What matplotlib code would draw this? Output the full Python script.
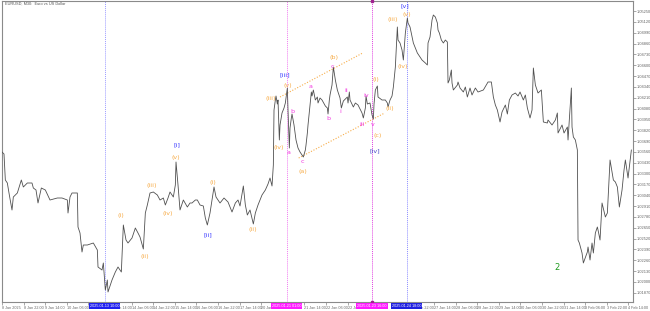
import matplotlib
matplotlib.use("Agg")
import matplotlib.pyplot as plt
import matplotlib.transforms as mtransforms
import numpy as np

plt.rcParams['font.family'] = ['Liberation Sans Narrow', 'Liberation Sans', 'DejaVu Sans']

# ── price series (M30 bars, EURUSD) ─────────────────────
bars = [0, 3, 5, 8, 11, 15, 17, 23, 29, 32, 38, 45, 47, 51, 54, 59, 65, 72, 83, 90,
        98, 99, 102, 105, 113, 114, 117, 120, 122, 128, 137, 143, 144, 150, 152, 155,
        158, 159, 165, 170, 174, 179, 182, 186, 189, 195, 200, 204, 207,
        212, 215, 218, 222, 227, 233, 237, 242, 245, 249, 252, 257, 260, 261, 264, 267,
        272, 278, 282, 285, 290, 293, 297, 302, 305, 308, 312, 315, 318, 321, 327, 333,
        339, 345, 350, 354, 357, 362, 365, 368, 372, 377, 380, 384, 390, 395, 399, 402,
        405, 407, 408, 410, 411, 413, 414, 416, 417, 420, 423, 425, 428, 429, 431, 432,
        434, 435, 438, 441, 444, 447, 452, 455, 456, 458, 459, 462, 464, 465, 467, 470,
        473, 474, 477, 480, 485, 488, 489, 491, 492, 495, 497, 500, 503, 507, 509, 512,
        518, 519, 521, 522, 527, 530, 534, 540, 542, 545, 546, 548, 552, 555, 557, 558,
        560, 563, 564, 570, 575, 578, 579, 582, 585, 587, 590, 593, 594, 597, 600, 602,
        605, 608, 609, 612, 617, 623, 627, 630, 635, 638, 639, 642, 645, 647, 650, 653,
        654, 656, 659, 662, 665, 668, 669, 671, 674, 675, 677, 683, 684, 687, 692, 695,
        698, 702, 705, 710, 714, 722, 729, 734, 737, 740, 743, 747, 750, 755, 758, 761,
        765, 770, 774, 777, 782, 785, 788, 792, 795, 797, 800, 804, 809, 812, 818, 819,
        825, 830, 833, 834, 840, 843, 848, 849, 854, 855, 857, 860, 863, 864, 866, 870,
        872, 878, 879, 882, 885, 887, 890, 893, 894, 897, 900, 905, 908, 912, 917, 920,
        923, 926, 930, 933, 935, 939, 944]
close = [1.03558, 1.03534, 1.03222, 1.03186, 1.03042, 1.02862, 1.03018, 1.03066, 1.03222, 1.03138,
         1.03186, 1.03186, 1.03126, 1.03102, 1.02946, 1.03126, 1.03102, 1.02982, 1.03006, 1.03006,
         1.02982, 1.02826, 1.03018, 1.03066, 1.03066, 1.02658, 1.02586, 1.02358, 1.02442, 1.02442,
         1.02466, 1.02382, 1.02178, 1.02142, 1.02226, 1.01902, 1.02022, 1.01878, 1.02022, 1.02118,
         1.02178, 1.02118, 1.02682, 1.02502, 1.02466, 1.02526, 1.02646, 1.02586, 1.02538,
         1.02394, 1.02826, 1.02922, 1.03066, 1.03078, 1.03042, 1.02982, 1.03006, 1.02922, 1.03006,
         1.03078, 1.03018, 1.03162, 1.03438, 1.03162, 1.02862, 1.02982, 1.02898, 1.02946, 1.02946,
         1.02982, 1.02982, 1.02922, 1.02910, 1.02766, 1.02682, 1.02826, 1.02982, 1.03138, 1.03018,
         1.02946, 1.03006, 1.02958, 1.02838, 1.02946, 1.02982, 1.02910, 1.03150, 1.02922, 1.02802,
         1.02862, 1.02694, 1.02826, 1.02922, 1.03042, 1.03102, 1.03174, 1.03246,
         1.03150, 1.03402, 1.04062, 1.04182, 1.04230, 1.04134, 1.04182, 1.03702, 1.03882, 1.04026,
         1.04086, 1.04146, 1.04326, 1.04062, 1.03606, 1.03846, 1.03966, 1.04014, 1.03882, 1.03702,
         1.03606, 1.03558, 1.03498, 1.03582, 1.03642, 1.03786, 1.03882, 1.04122, 1.04278, 1.04230,
         1.04302, 1.04182, 1.04218, 1.04146, 1.04206, 1.04182, 1.04110, 1.04086, 1.04014, 1.04182,
         1.04242, 1.04362, 1.04578, 1.04422, 1.04302, 1.04206, 1.04086, 1.04170, 1.04218, 1.04146,
         1.04278, 1.04182, 1.04098, 1.04146, 1.04122, 1.04026, 1.03966, 1.04086, 1.04230, 1.04134,
         1.04146, 1.04002, 1.03954, 1.04134, 1.04302, 1.04350, 1.04218, 1.04182, 1.04182, 1.04146,
         1.04098, 1.04182, 1.04230, 1.04338, 1.04578, 1.05058, 1.04902, 1.04866, 1.04782, 1.04662,
         1.04986, 1.05166, 1.05106, 1.05058, 1.04866, 1.04746, 1.04698, 1.04662, 1.04626, 1.04602,
         1.04866, 1.04938, 1.05142, 1.05202, 1.05178, 1.05106, 1.05022, 1.04986, 1.04902, 1.04866,
         1.04902, 1.04878, 1.04386, 1.04422, 1.04542, 1.04386, 1.04302, 1.04362, 1.04398, 1.04326,
         1.04278, 1.04338, 1.04218, 1.04326, 1.04242, 1.04326, 1.04278, 1.04302, 1.04398, 1.04398,
         1.04218, 1.04122, 1.04062, 1.03918, 1.04038, 1.04122, 1.04014, 1.04182, 1.04242, 1.04266,
         1.04230, 1.04278, 1.04182, 1.04242, 1.04086, 1.03966, 1.04062, 1.04566, 1.04362, 1.04266,
         1.04302, 1.03918, 1.03906, 1.03942, 1.03882, 1.03942, 1.04026, 1.03786, 1.03882, 1.03786,
         1.03858, 1.03702, 1.04326, 1.03858, 1.03738, 1.03702, 1.03582, 1.02502, 1.02466, 1.02346,
         1.02226, 1.02358, 1.02418, 1.02262, 1.02466, 1.02346, 1.02586, 1.02658, 1.02622, 1.02502,
         1.02946, 1.02778, 1.02826, 1.03462, 1.03222, 1.03198, 1.03138, 1.02898, 1.03102, 1.03342,
         1.03462, 1.03246, 1.03582]

# ── wave labels ──────────────────────────────────────────
ORANGE = "#f7ad4a"
PINK = "#f23ce0"
BLUE = "#3a3aff"
DKBLUE = "#4646c8"
GREEN = "#1f9a1f"
wave_text = ["(i)", "(ii)", "(iii)", "(iv)", "(v)", "[i]", "[ii]", "(i)", "(ii)", "(iii)",
             "(iv)", "(v)", "[iii]", "a", "b", "c", "(a)", "a", "b", "c", "(b)",
             "i", "ii", "iii", "iv", "v", "(c)", "[iv]", "(i)", "(ii)", "(iii)", "(iv)",
             "(v)", "[v]", "2"]
wave_bar = [178, 214, 225, 249, 261, 262, 309, 316, 376, 403,
            415, 429, 424, 430, 435, 451, 451, 463, 490, 496, 498,
            507, 517, 541, 546, 556, 564, 559, 561, 582, 586, 601,
            607, 604, 832]
wave_price = [1.02802, 1.02310, 1.03162, 1.02826, 1.03498, 1.03642, 1.02562, 1.03198, 1.02634, 1.04206,
              1.03618, 1.04350, 1.04482, 1.03546, 1.04050, 1.03450, 1.03330, 1.04350, 1.03966, 1.04590, 1.04698,
              1.04050, 1.04302, 1.03894, 1.04242, 1.03894, 1.03750, 1.03570, 1.04434, 1.04086, 1.05154, 1.04590,
              1.05214, 1.05310, 1.02178]
wave_color = ([ORANGE] * 5 + [BLUE, BLUE] + [ORANGE] * 5 + [BLUE]
              + [PINK] * 3 + [ORANGE] + [PINK] * 3 + [ORANGE]
              + [PINK] * 5 + [ORANGE, DKBLUE] + [ORANGE] * 5 + [BLUE, GREEN])

# channel (dotted orange)
chan_upper_bar, chan_upper_price = [417, 541], [1.04218, 1.04746]
chan_lower_bar, chan_lower_price = [445, 574], [1.03486, 1.04026]

# vertical markers
vline_bar = [154, 427, 555, 607]
vline_color = ["#9b9bff", "#f07cf0", "#e040e0", "#8c8cff"]
vline_label = ["2025.01.13 10:00", "2025.01.21 01:00", "2025.01.23 16:00", "2025.01.24 18:00"]
vline_box = ["#2020f0", "#ff1aff", "#ff1aff", "#2020e0"]

# axis labels ("" = hidden under a marker box)
x_labels = ["8 Jan 2025", "8 Jan 22:00", "9 Jan 14:00", "10 Jan 06:00", "", "13 Jan 14:00",
            "14 Jan 06:00", "14 Jan 22:00", "15 Jan 14:00", "16 Jan 06:00", "16 Jan 22:00", "17 Jan 14:00",
            "20 Jan 06:00", "", "21 Jan 14:00", "22 Jan 06:00", "22 Jan 22:00", "",
            "", "24 Jan 22:00", "27 Jan 14:00", "28 Jan 06:00", "28 Jan 22:00", "29 Jan 14:00",
            "30 Jan 06:00", "30 Jan 22:00", "31 Jan 14:00", "3 Feb 06:00", "3 Feb 22:00", "4 Feb 14:00"]
y_ticks = 1.0187 + 0.0013 * np.arange(27)

# ── figure ───────────────────────────────────────────────
fig = plt.figure(figsize=(6.5, 3.11), dpi=100)
ax = fig.add_axes([2 / 650, 9 / 311, 630.7 / 650, 301 / 311])
ax.set_xlim(0, 946)
ax.set_ylim(1.01758, 1.05370)

ax.plot(bars, close, color="#505050", lw=0.6, zorder=3)

for b, c in zip(vline_bar, vline_color):
    ax.axvline(b, color=c, ls=(0, (1, 1)), lw=0.7, zorder=2)
ax.plot([555, 555], [1.05370, 1.01758], ls="none", marker="s", ms=1.6, color="#a0208f",
        clip_on=False, zorder=6)

ax.plot(chan_upper_bar, chan_upper_price, color=ORANGE, ls=(0, (1, 1.5)), lw=0.8, zorder=2)
ax.plot(chan_lower_bar, chan_lower_price, color=ORANGE, ls=(0, (1, 1.5)), lw=0.8, zorder=2)

for t, b, p, c in zip(wave_text, wave_bar, wave_price, wave_color):
    fs = 6 if t == "2" else 4.6
    ax.text(b, p, t, color=c, fontsize=fs, ha="center", va="center",
            family=["DejaVu Sans"], zorder=5)

ax.text(0.004, 0.997, "EURUSD, M30:  Euro vs US Dollar", transform=ax.transAxes,
        fontsize=2.8, color="#555555", ha="left", va="top")

# axes styling
ax.yaxis.tick_right()
ax.set_yticks(y_ticks)
ax.set_yticklabels([f"{v:.5f}" for v in y_ticks])
ax.set_xticks(32.4 * np.arange(len(x_labels)))
ax.set_xticklabels(x_labels, ha="left")
ax.tick_params(axis="y", length=2, width=0.4, colors="#666666", labelsize=2.9, pad=1)
ax.tick_params(axis="x", length=2, width=0.4, colors="#666666", labelsize=2.7, pad=1)
for s in ax.spines.values():
    s.set_color("#8a8a8a")
    s.set_linewidth(0.8)

trans = mtransforms.blended_transform_factory(ax.transData, ax.transAxes)
for b, lab, bc in zip(vline_bar, vline_label, vline_box):
    ax.text(b, -0.006, lab, transform=trans, ha="center", va="top", fontsize=2.7, color="white",
            bbox=dict(facecolor=bc, edgecolor="none", pad=0.7), clip_on=False, zorder=10)

fig.savefig("out.png", dpi=100, facecolor="white")
